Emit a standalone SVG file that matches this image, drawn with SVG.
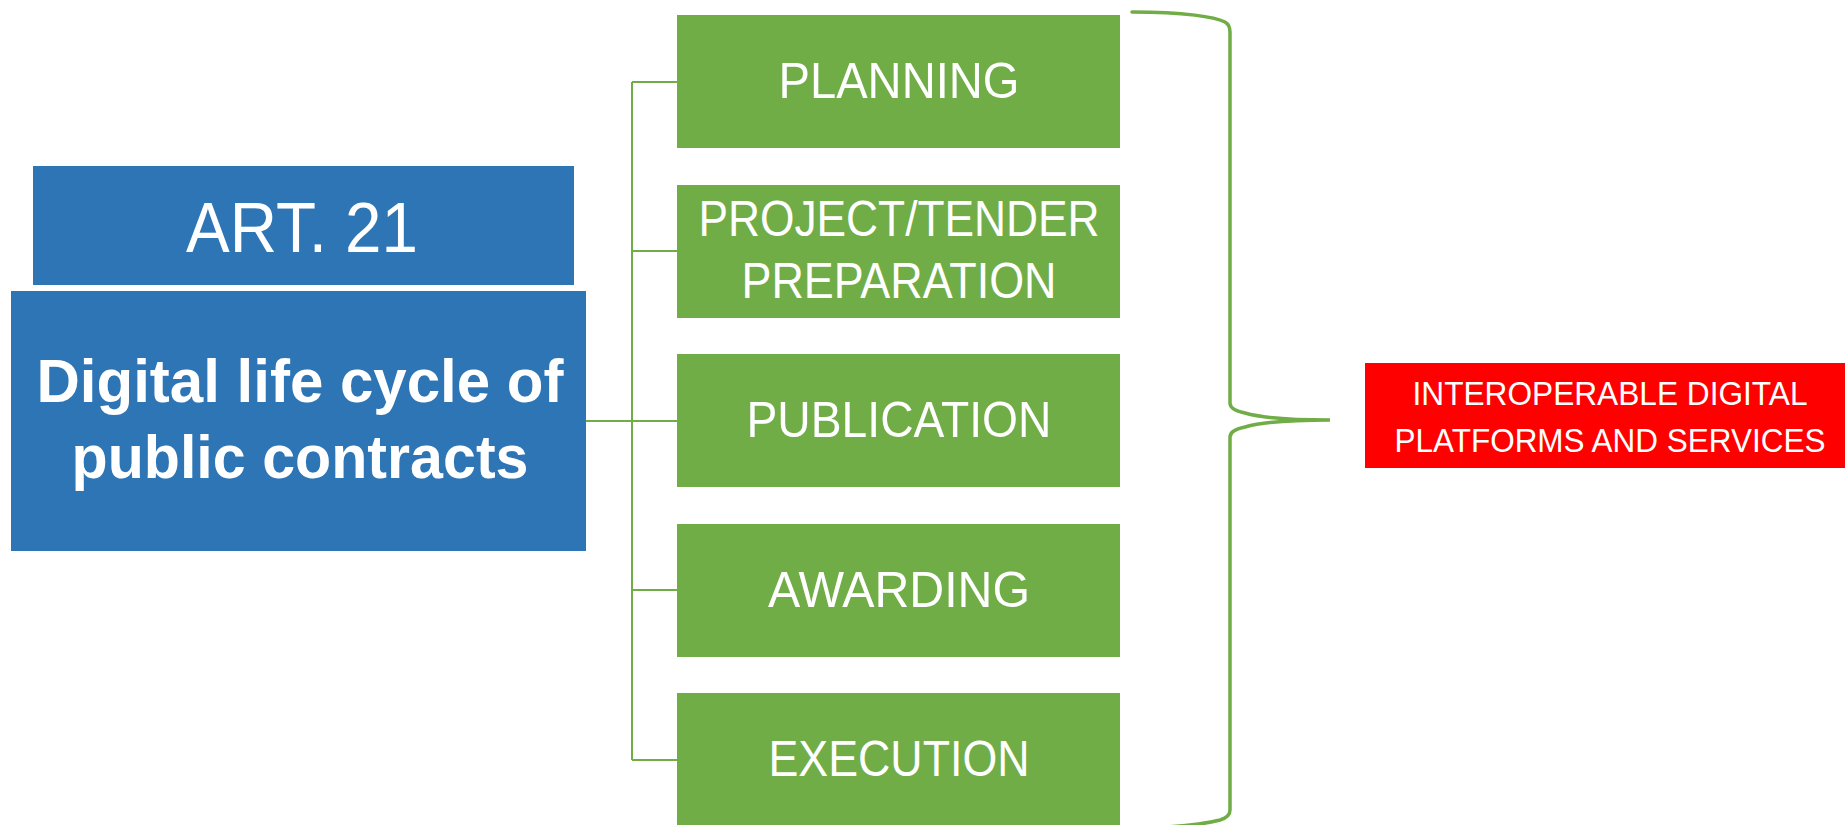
<svg xmlns="http://www.w3.org/2000/svg" width="1845" height="825" viewBox="0 0 1845 825">
<style>
.blue{fill:#2E75B6}
.green{fill:#70AD47}
.red{fill:#FF0000}
.t{font-family:"Liberation Sans",Arial,sans-serif;fill:#FFFFFF;text-anchor:middle}
.g{font-size:50px}
.conn{stroke:#70AD47;stroke-width:2;fill:none}
.brace{stroke:#70AD47;stroke-width:3.5;fill:none;stroke-linecap:round}
</style>
<rect width="1845" height="825" fill="#FFFFFF"/>
<g id="connectors">
<path class="conn" d="M586 421 H632 M632 82 V760 M632 82 H677 M632 251 H677 M632 421 H677 M632 590 H677 M632 760 H677"/>
<path class="brace" d="M1132 12 C1185 12 1215 17 1225 22 Q1230 25 1230 32 L1230 403 Q1230 410 1245 413 C1262 418 1290 420 1330 420 C1290 420 1262 422 1245 427 Q1230 430 1230 437 L1230 810 Q1230 817 1220 820 C1205 824 1185 826 1166 827"/>
</g>
<g id="art21">
<rect class="blue" x="33" y="166" width="541" height="119"/>
<text class="t" x="302" y="252" font-size="71" textLength="232" lengthAdjust="spacingAndGlyphs">ART. 21</text>
</g>
<g id="lifecycle">
<rect class="blue" x="11" y="291" width="575" height="260"/>
<text class="t" x="300" y="402" font-size="61" font-weight="bold" textLength="527" lengthAdjust="spacingAndGlyphs">Digital life cycle of</text>
<text class="t" x="300" y="478" font-size="61" font-weight="bold" textLength="457" lengthAdjust="spacingAndGlyphs">public contracts</text>
</g>
<g id="planning">
<rect class="green" x="677" y="15" width="443" height="133"/>
<text class="t g" x="899" y="98" textLength="241" lengthAdjust="spacingAndGlyphs">PLANNING</text>
</g>
<g id="preparation">
<rect class="green" x="677" y="185" width="443" height="133"/>
<text class="t g" x="899" y="236" textLength="401" lengthAdjust="spacingAndGlyphs">PROJECT/TENDER</text>
<text class="t g" x="899" y="298" textLength="315" lengthAdjust="spacingAndGlyphs">PREPARATION</text>
</g>
<g id="publication">
<rect class="green" x="677" y="354" width="443" height="133"/>
<text class="t g" x="899" y="437" textLength="305" lengthAdjust="spacingAndGlyphs">PUBLICATION</text>
</g>
<g id="awarding">
<rect class="green" x="677" y="524" width="443" height="133"/>
<text class="t g" x="899" y="607" textLength="262" lengthAdjust="spacingAndGlyphs">AWARDING</text>
</g>
<g id="execution">
<rect class="green" x="677" y="693" width="443" height="133"/>
<text class="t g" x="899" y="776" textLength="261" lengthAdjust="spacingAndGlyphs">EXECUTION</text>
</g>
<g id="platforms">
<rect class="red" x="1365" y="363" width="480" height="105"/>
<text class="t" x="1610" y="405" font-size="33" textLength="395" lengthAdjust="spacingAndGlyphs">INTEROPERABLE DIGITAL</text>
<text class="t" x="1610" y="452" font-size="33" textLength="431" lengthAdjust="spacingAndGlyphs">PLATFORMS AND SERVICES</text>
</g>
</svg>
